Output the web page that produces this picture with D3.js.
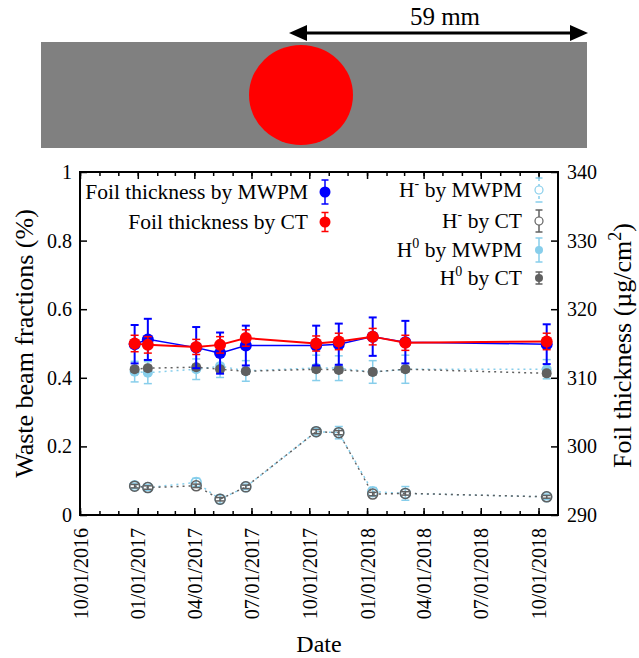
<!DOCTYPE html>
<html><head><meta charset="utf-8">
<script src="https://cdn.jsdelivr.net/npm/d3@7"></script>
<style>
body{margin:0;background:#fff}
svg{display:block}
svg text{font-family:"Liberation Serif","Times New Roman",Tinos,"DejaVu Serif",serif !important;fill:#000}
</style>
</head><body>
<svg id="c" width="639" height="658"></svg>
<script>
// ---- data ----
const dates = ["2016-12-27","2017-01-17","2017-04-04","2017-05-12","2017-06-22","2017-10-12","2017-11-17","2018-01-10","2018-03-03","2018-10-14"];
const foilMWPM    = [314.9,315.6,314.4,313.6,314.7,314.7,314.9,316.0,315.2,314.9];
const foilMWPMErr = [2.8,3.0,3.0,3.0,2.9,2.9,3.0,2.8,3.1,2.9];
const foilCT      = [315.0,314.8,314.5,314.8,315.8,315.0,315.3,316.0,315.1,315.3];
const foilCTErr   = [1.2,1.2,1.1,1.2,1.2,1.1,1.2,1.2,1.1,1.2];
const hMinusMWPM    = [0.085,0.080,0.095,0.046,0.082,0.243,0.240,0.068,0.063,0.053];
const hMinusMWPMErr = [0.008,0.008,0.012,0.012,0.008,0.010,0.018,0.012,0.020,0.008];
const hMinusCT      = [0.084,0.080,0.085,0.046,0.082,0.243,0.240,0.061,0.063,0.053];
const hMinusCTErr   = [0.005,0.005,0.005,0.005,0.005,0.006,0.006,0.005,0.005,0.004];
const h0MWPM    = [0.418,0.415,0.425,0.434,0.420,0.429,0.428,0.417,0.425,0.425];
const h0MWPMErr = [0.030,0.032,0.030,0.033,0.030,0.037,0.036,0.033,0.041,0.028];
const h0CT      = [0.425,0.428,0.431,0.425,0.419,0.425,0.423,0.417,0.425,0.413];
const h0CTErr   = [0.008,0.008,0.008,0.008,0.008,0.008,0.008,0.008,0.008,0.008];
const xTickDates = ["2016-10-01","2017-01-01","2017-04-01","2017-07-01","2017-10-01","2018-01-01","2018-04-01","2018-07-01","2018-10-01"];
const xDomain = ["2016-10-01","2018-11-01"];
const yLeftTicks = [0,0.2,0.4,0.6,0.8,1];
const yRightTicks = [290,300,310,320,330,340];
const leftLegend = ["Foil thickness by MWPM","Foil thickness by CT"];
const rightLegend = [["H","-"," by MWPM"],["H","-"," by CT"],["H","0"," by MWPM"],["H","0"," by CT"]];

// ---- colours ----
const BLUE="#0000ff", RED="#ff0000", SKY="#87ceeb", GREY="#606060";

const parse = d3.utcParse("%Y-%m-%d");
const svg = d3.select("#c");
const L=80, R=558, T=172, B=515;
const FONT = "'Liberation Serif','Times New Roman',Tinos,'DejaVu Serif',serif";

// ---- top diagram ----
const diag = svg.append("g");
diag.append("rect").attr("x",41).attr("y",42).attr("width",546).attr("height",106).attr("fill","#808080");
diag.append("ellipse").attr("cx",301).attr("cy",95).attr("rx",52).attr("ry",50).attr("fill",RED);
diag.append("line").attr("x1",300).attr("x2",577).attr("y1",33).attr("y2",33).attr("stroke","#000").attr("stroke-width",3);
diag.append("path").attr("d","M289,33 L307,25 L307,41 Z").attr("fill","#000");
diag.append("path").attr("d","M588,33 L570,25 L570,41 Z").attr("fill","#000");
diag.append("text").attr("x",445).attr("y",25).attr("text-anchor","middle").attr("font-size",25).text("59 mm");

// ---- scales ----
const x = d3.scaleUtc().domain(xDomain.map(parse)).range([L,R]);
const yL = d3.scaleLinear().domain([0,1]).range([B,T]);
const yR = d3.scaleLinear().domain([290,340]).range([B,T]);
const xd = dates.map(parse);

// ---- axes ----
const font = g => g.attr("font-family",FONT).attr("font-size",20);
const styl = g => { g.selectAll(".tick line").attr("stroke","#000").attr("stroke-width",1.5); g.select(".domain").remove(); g.selectAll("text").attr("fill","#000"); };

const monthTicks = d3.utcMonth.range(parse(xDomain[0]), parse(xDomain[1]));
svg.append("g").attr("transform",`translate(0,${B})`)
  .call(d3.axisBottom(x).tickValues(monthTicks).tickSize(-4).tickFormat(""))
  .call(styl);
svg.append("g").attr("transform",`translate(0,${T})`)
  .call(d3.axisTop(x).tickValues(monthTicks).tickSize(-4).tickFormat(""))
  .call(styl);
svg.append("g").attr("transform",`translate(0,${T})`)
  .call(d3.axisTop(x).tickValues(xTickDates.map(parse)).tickSize(-7).tickFormat(""))
  .call(styl);
const xb = svg.append("g").attr("transform",`translate(0,${B})`)
  .call(d3.axisBottom(x).tickValues(xTickDates.map(parse)).tickSize(-7).tickFormat(d3.utcFormat("%m/%d/%Y")))
  .call(font).call(styl);
xb.selectAll("text").attr("y",0).attr("x",0).attr("dy","0.35em")
  .attr("text-anchor","end").attr("transform","translate(0,13) rotate(-90)");

svg.append("g").attr("transform",`translate(${L},0)`)
  .call(d3.axisLeft(yL).tickValues(yLeftTicks).tickSize(-7).tickPadding(8).tickFormat(d=>String(d)))
  .call(font).call(styl);
svg.append("g").attr("transform",`translate(${R},0)`)
  .call(d3.axisRight(yR).tickValues(yRightTicks).tickSize(-7).tickPadding(9).tickFormat(d=>String(d)))
  .call(font).call(styl);

// frame
svg.append("rect").attr("x",L).attr("y",T).attr("width",R-L).attr("height",B-T)
  .attr("fill","none").attr("stroke","#000").attr("stroke-width",2);

// titles
svg.append("text").attr("transform",`translate(33,${(T+B)/2}) rotate(-90)`)
  .attr("text-anchor","middle").attr("font-size",26).text("Waste beam fractions (%)");
const rt = svg.append("text").attr("transform",`translate(631,${(T+B)/2+2}) rotate(-90)`)
  .attr("text-anchor","middle").attr("font-size",26);
rt.append("tspan").text("Foil thickness (µg/cm");
rt.append("tspan").attr("font-size",18).attr("dy",-10).text("2");
rt.append("tspan").attr("dy",10).text(")");
svg.append("text").attr("x",(L+R)/2).attr("y",652).attr("text-anchor","middle").attr("font-size",24).text("Date");

// ---- series ----
function series(vals, errs, y, o){
  const g = svg.append("g");
  const pts = vals.map((v,i)=>({x:x(xd[i]), y:y(v), lo:y(v-errs[i]), hi:y(v+errs[i])}));
  const line = d3.line().x(d=>d.x).y(d=>d.y);
  g.append("path").attr("d",line(pts)).attr("fill","none").attr("stroke",o.color)
    .attr("stroke-width",o.lw).attr("stroke-dasharray",o.dash||null);
  const eb = g.selectAll(".eb").data(pts).join("g").attr("stroke",o.color).attr("stroke-width",o.ew);
  eb.append("line").attr("x1",d=>d.x).attr("x2",d=>d.x).attr("y1",d=>d.lo).attr("y2",d=>d.hi);
  eb.append("line").attr("x1",d=>d.x-o.cap).attr("x2",d=>d.x+o.cap).attr("y1",d=>d.lo).attr("y2",d=>d.lo);
  eb.append("line").attr("x1",d=>d.x-o.cap).attr("x2",d=>d.x+o.cap).attr("y1",d=>d.hi).attr("y2",d=>d.hi);
  g.selectAll("circle").data(pts).join("circle").attr("cx",d=>d.x).attr("cy",d=>d.y).attr("r",o.r)
    .attr("fill",o.open?"none":o.color).attr("stroke",o.color).attr("stroke-width",o.open?1.5:0);
}
series(hMinusMWPM,hMinusMWPMErr,yL,{color:SKY,lw:1.5,dash:"2,4",ew:1.5,cap:4,r:5,open:true});
series(hMinusCT,hMinusCTErr,yL,{color:GREY,lw:1.5,dash:"2,4",ew:1.5,cap:4,r:5,open:true});
series(h0MWPM,h0MWPMErr,yL,{color:SKY,lw:1.5,dash:"2,4",ew:1.5,cap:4,r:5});
series(h0CT,h0CTErr,yL,{color:GREY,lw:1.5,dash:"2,4",ew:1.5,cap:4,r:5});
series(foilMWPM,foilMWPMErr,yR,{color:BLUE,lw:1.5,ew:2,cap:4,r:6});
series(foilCT,foilCTErr,yR,{color:RED,lw:2,ew:1.5,cap:4,r:6});

// ---- legends ----
function sample(cx, cy, half, o){
  const g = svg.append("g").attr("stroke",o.color).attr("stroke-width",1.5);
  g.append("line").attr("x1",cx).attr("x2",cx).attr("y1",cy-half).attr("y2",cy+half).attr("stroke-dasharray",o.dash||null);
  g.append("line").attr("x1",cx-3.5).attr("x2",cx+3.5).attr("y1",cy-half).attr("y2",cy-half);
  g.append("line").attr("x1",cx-3.5).attr("x2",cx+3.5).attr("y1",cy+half).attr("y2",cy+half);
  g.append("circle").attr("cx",cx).attr("cy",cy).attr("r",o.r).attr("fill",o.open?"#fff":o.color).attr("stroke-width",o.open?1.2:0);
}
const leftCols=[BLUE,RED], leftY=[192,222], leftHalf=[12,9.5];
leftLegend.forEach((t,i)=>{
  svg.append("text").attr("x",308).attr("y",leftY[i]+7).attr("text-anchor","end").attr("font-size",21.5).text(t);
  sample(325,leftY[i],leftHalf[i],{color:leftCols[i],r:5.5});
});
const rightCols=[SKY,GREY,SKY,GREY], rightOpen=[true,true,false,false], rightY=[190,221,250,278], rightHalf=[12,11,12,6];
rightLegend.forEach((t,i)=>{
  const tx = svg.append("text").attr("x",522).attr("y",rightY[i]+7).attr("text-anchor","end").attr("font-size",21.5);
  tx.append("tspan").text(t[0]);
  tx.append("tspan").attr("font-size",14).attr("dy",-9).text(t[1]);
  tx.append("tspan").attr("dy",9).text(t[2]);
  sample(539,rightY[i],rightHalf[i],{color:rightCols[i],r:4,open:rightOpen[i],dash:i===0?"3,3":null});
});
</script>
</body></html>
